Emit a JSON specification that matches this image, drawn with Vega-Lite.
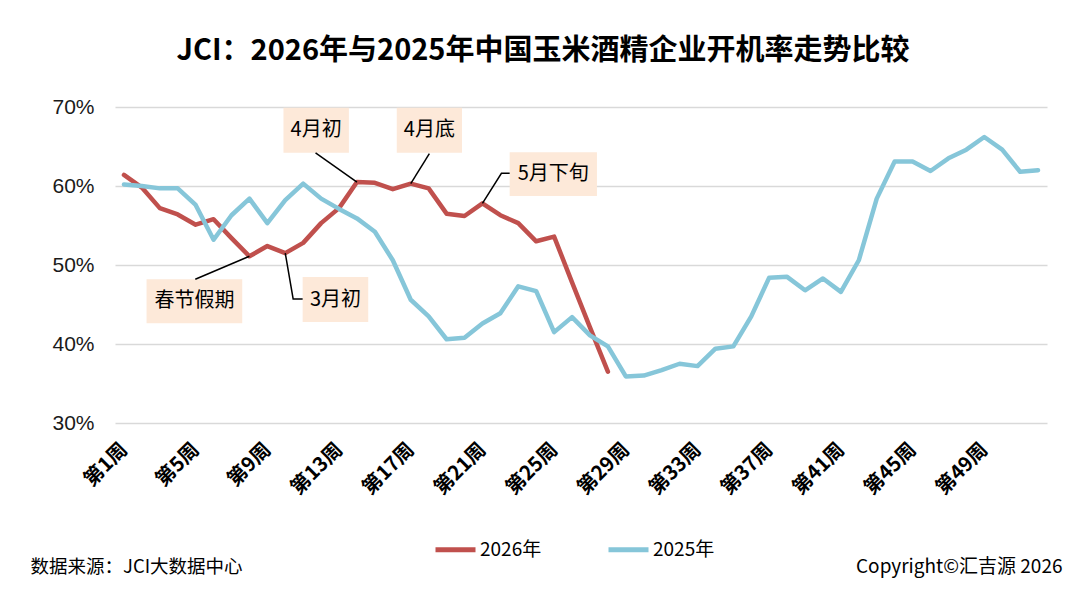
{
  "$schema": "https://vega.github.io/schema/vega-lite/v6.json",
  "autosize": {"type": "none"},
  "width": 932,
  "height": 316,
  "padding": {"left": 115, "top": 107, "right": 42, "bottom": 168},
  "background": "white",
  "title": {
    "text": "JCI：2026年与2025年中国玉米酒精企业开机率走势比较",
    "font": "Noto Sans CJK SC",
    "fontSize": 29,
    "fontWeight": "bold",
    "color": "black",
    "anchor": "middle",
    "frame": "group",
    "dx": -38,
    "offset": 30
  },
  "config": {
    "view": {"stroke": null},
    "font": "Noto Sans CJK SC"
  },
  "datasets": {
    "rates": [
      {"week": 1, "year": "2026年", "rate": 61.4},
      {"week": 2, "year": "2026年", "rate": 59.8},
      {"week": 3, "year": "2026年", "rate": 57.2},
      {"week": 4, "year": "2026年", "rate": 56.4},
      {"week": 5, "year": "2026年", "rate": 55.1},
      {"week": 6, "year": "2026年", "rate": 55.8},
      {"week": 7, "year": "2026年", "rate": 53.4},
      {"week": 8, "year": "2026年", "rate": 51.1},
      {"week": 9, "year": "2026年", "rate": 52.4},
      {"week": 10, "year": "2026年", "rate": 51.5},
      {"week": 11, "year": "2026年", "rate": 52.8},
      {"week": 12, "year": "2026年", "rate": 55.3},
      {"week": 13, "year": "2026年", "rate": 57.2},
      {"week": 14, "year": "2026年", "rate": 60.5},
      {"week": 15, "year": "2026年", "rate": 60.4},
      {"week": 16, "year": "2026年", "rate": 59.6},
      {"week": 17, "year": "2026年", "rate": 60.3},
      {"week": 18, "year": "2026年", "rate": 59.7},
      {"week": 19, "year": "2026年", "rate": 56.5},
      {"week": 20, "year": "2026年", "rate": 56.2},
      {"week": 21, "year": "2026年", "rate": 57.8},
      {"week": 22, "year": "2026年", "rate": 56.3},
      {"week": 23, "year": "2026年", "rate": 55.3},
      {"week": 24, "year": "2026年", "rate": 53.0},
      {"week": 25, "year": "2026年", "rate": 53.6},
      {"week": 26, "year": "2026年", "rate": 47.8},
      {"week": 27, "year": "2026年", "rate": 42.1},
      {"week": 28, "year": "2026年", "rate": 36.5},
      {"week": 1, "year": "2025年", "rate": 60.2},
      {"week": 2, "year": "2025年", "rate": 60.0},
      {"week": 3, "year": "2025年", "rate": 59.7},
      {"week": 4, "year": "2025年", "rate": 59.7},
      {"week": 5, "year": "2025年", "rate": 57.6},
      {"week": 6, "year": "2025年", "rate": 53.2},
      {"week": 7, "year": "2025年", "rate": 56.3},
      {"week": 8, "year": "2025年", "rate": 58.4},
      {"week": 9, "year": "2025年", "rate": 55.3},
      {"week": 10, "year": "2025年", "rate": 58.2},
      {"week": 11, "year": "2025年", "rate": 60.3},
      {"week": 12, "year": "2025年", "rate": 58.4},
      {"week": 13, "year": "2025年", "rate": 57.1},
      {"week": 14, "year": "2025年", "rate": 55.9},
      {"week": 15, "year": "2025年", "rate": 54.2},
      {"week": 16, "year": "2025年", "rate": 50.6},
      {"week": 17, "year": "2025年", "rate": 45.6},
      {"week": 18, "year": "2025年", "rate": 43.5},
      {"week": 19, "year": "2025年", "rate": 40.6},
      {"week": 20, "year": "2025年", "rate": 40.8},
      {"week": 21, "year": "2025年", "rate": 42.6},
      {"week": 22, "year": "2025年", "rate": 43.9},
      {"week": 23, "year": "2025年", "rate": 47.3},
      {"week": 24, "year": "2025年", "rate": 46.7},
      {"week": 25, "year": "2025年", "rate": 41.5},
      {"week": 26, "year": "2025年", "rate": 43.4},
      {"week": 27, "year": "2025年", "rate": 41.1},
      {"week": 28, "year": "2025年", "rate": 39.7},
      {"week": 29, "year": "2025年", "rate": 35.9},
      {"week": 30, "year": "2025年", "rate": 36.0},
      {"week": 31, "year": "2025年", "rate": 36.7},
      {"week": 32, "year": "2025年", "rate": 37.5},
      {"week": 33, "year": "2025年", "rate": 37.2},
      {"week": 34, "year": "2025年", "rate": 39.4},
      {"week": 35, "year": "2025年", "rate": 39.7},
      {"week": 36, "year": "2025年", "rate": 43.5},
      {"week": 37, "year": "2025年", "rate": 48.4},
      {"week": 38, "year": "2025年", "rate": 48.5},
      {"week": 39, "year": "2025年", "rate": 46.8},
      {"week": 40, "year": "2025年", "rate": 48.3},
      {"week": 41, "year": "2025年", "rate": 46.6},
      {"week": 42, "year": "2025年", "rate": 50.6},
      {"week": 43, "year": "2025年", "rate": 58.4},
      {"week": 44, "year": "2025年", "rate": 63.1},
      {"week": 45, "year": "2025年", "rate": 63.1},
      {"week": 46, "year": "2025年", "rate": 61.9},
      {"week": 47, "year": "2025年", "rate": 63.5},
      {"week": 48, "year": "2025年", "rate": 64.6},
      {"week": 49, "year": "2025年", "rate": 66.2},
      {"week": 50, "year": "2025年", "rate": 64.6},
      {"week": 51, "year": "2025年", "rate": 61.8},
      {"week": 52, "year": "2025年", "rate": 62.0}
    ],
    "notes": [
      {"label": "4月初", "week": 9.9, "week2": 13.55, "rate": 69.9, "rate2": 64.2, "cx": 11.72, "cy": 67.05},
      {"label": "4月底", "week": 16.22, "week2": 19.86, "rate": 69.9, "rate2": 64.2, "cx": 18.04, "cy": 67.05},
      {"label": "5月下旬", "week": 22.52, "week2": 27.39, "rate": 64.27, "rate2": 58.73, "cx": 24.95, "cy": 61.5},
      {"label": "春节假期", "week": 2.26, "week2": 7.6, "rate": 48.19, "rate2": 42.62, "cx": 4.93, "cy": 45.4},
      {"label": "3月初", "week": 10.97, "week2": 14.63, "rate": 48.48, "rate2": 42.78, "cx": 12.8, "cy": 45.6}
    ],
    "leaders": [
      {"id": "a", "step": 1, "week": 11.69, "rate": 64.2},
      {"id": "a", "step": 2, "week": 14, "rate": 60.5},
      {"id": "b", "step": 1, "week": 18.04, "rate": 64.1},
      {"id": "b", "step": 2, "week": 17, "rate": 60.3},
      {"id": "c", "step": 1, "week": 22.52, "rate": 61.6},
      {"id": "c", "step": 2, "week": 22.06, "rate": 61.6},
      {"id": "c", "step": 3, "week": 21, "rate": 57.8},
      {"id": "d", "step": 1, "week": 4.98, "rate": 48.2},
      {"id": "d", "step": 2, "week": 8, "rate": 51.1},
      {"id": "e", "step": 1, "week": 10, "rate": 51.5},
      {"id": "e", "step": 2, "week": 10.44, "rate": 45.7},
      {"id": "e", "step": 3, "week": 10.97, "rate": 45.7}
    ]
  },
  "layer": [
    {
      "data": {"name": "rates"},
      "mark": {"type": "line", "strokeWidth": 4.5, "strokeJoin": "round", "strokeCap": "round"},
      "encoding": {
        "x": {
          "field": "week",
          "type": "quantitative",
          "scale": {"domain": [0.5, 52.5], "nice": false, "zero": false},
          "axis": {
            "values": [1, 5, 9, 13, 17, 21, 25, 29, 33, 37, 41, 45, 49],
            "labelExpr": "'第' + datum.value + '周'",
            "labelAngle": -45,
            "labelAlign": "right",
            "labelBaseline": "middle",
            "labelPadding": 23,
            "labelFontSize": 20,
            "labelFontWeight": "bold",
            "labelColor": "black",
            "labelFont": "Noto Sans CJK SC",
            "grid": false,
            "ticks": false,
            "domain": false,
            "labelOverlap": false,
            "title": "数据来源：JCI大数据中心",
            "titleFont": "Noto Sans CJK SC",
            "titleFontSize": 18.5,
            "titleFontWeight": "normal",
            "titleColor": "black",
            "titleAlign": "left",
            "titleBaseline": "alphabetic",
            "titleX": -85,
            "titleY": 149
          }
        },
        "y": {
          "field": "rate",
          "type": "quantitative",
          "scale": {"domain": [30, 70], "nice": false, "zero": false},
          "axis": {
            "values": [30, 40, 50, 60, 70],
            "labelExpr": "datum.value + '%'",
            "labelFont": "Liberation Sans",
            "labelFontSize": 21,
            "labelColor": "#1a1a1a",
            "labelPadding": 21,
            "grid": true,
            "gridColor": "#D9D9D9",
            "gridWidth": 1.5,
            "ticks": false,
            "domain": false,
            "title": "Copyright©汇吉源 2026",
            "titleAngle": 0,
            "titleFont": "Noto Sans CJK SC",
            "titleFontSize": 19,
            "titleFontWeight": "normal",
            "titleColor": "black",
            "titleAlign": "right",
            "titleBaseline": "alphabetic",
            "titleX": 947,
            "titleY": 465
          }
        },
        "color": {
          "field": "year",
          "type": "nominal",
          "scale": {"domain": ["2026年", "2025年"], "range": ["#C0504D", "#86C6D9"]},
          "legend": {
            "title": null,
            "orient": "none",
            "direction": "horizontal",
            "legendX": 318,
            "legendY": 420,
            "symbolType": "stroke",
            "symbolSize": 1600,
            "symbolStrokeWidth": 5,
            "labelFont": "Noto Sans CJK SC",
            "labelFontSize": 19,
            "labelColor": "black",
            "labelOffset": 2,
            "columnPadding": 56
          }
        }
      }
    },
    {
      "data": {"name": "notes"},
      "mark": {"type": "rect", "color": "#FDE9D9"},
      "encoding": {
        "x": {"field": "week", "type": "quantitative"},
        "x2": {"field": "week2"},
        "y": {"field": "rate", "type": "quantitative"},
        "y2": {"field": "rate2"}
      }
    },
    {
      "data": {"name": "notes"},
      "mark": {"type": "text", "font": "Noto Sans CJK SC", "fontSize": 20, "color": "black", "align": "center", "baseline": "middle"},
      "encoding": {
        "x": {"field": "cx", "type": "quantitative"},
        "y": {"field": "cy", "type": "quantitative"},
        "text": {"field": "label"}
      }
    },
    {
      "data": {"name": "leaders"},
      "mark": {"type": "line", "color": "black", "strokeWidth": 1.5},
      "encoding": {
        "x": {"field": "week", "type": "quantitative"},
        "y": {"field": "rate", "type": "quantitative"},
        "detail": {"field": "id"},
        "order": {"field": "step"}
      }
    }
  ]
}
